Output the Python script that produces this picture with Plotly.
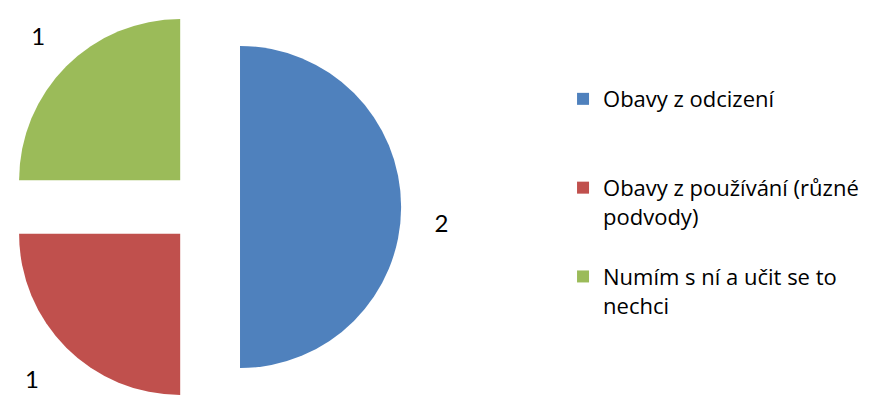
import plotly.graph_objects as go

labels = ["Obavy z odcizení", "Obavy z používání (různé podvody)", "Numím s ní a učit se to nechci"]
legend_labels = ["Obavy z odcizení<br> <br> ", "Obavy z používání (různé<br>podvody)<br> ", "Numím s ní a učit se to<br>nechci<br> "]
values = [2, 1, 1]
colors = ["#4F81BD", "#C0504D", "#9BBB59"]
pulls = [0.205, 0.235, 0.235]
nb = "\u00a0"
label_templates = [nb + "<br>" + nb * 3 + "%{value}", nb + "<br>%{value}" + nb * 2, "%{value}" + nb + "<br>" + nb]

fig = go.Figure(go.Pie(
    labels=legend_labels,
    values=values,
    sort=False,
    direction="clockwise",
    rotation=0,
    pull=pulls,
    marker=dict(colors=colors, line=dict(width=0)),
    texttemplate=label_templates,
    textposition="outside",
    textfont=dict(family="Lato", size=24, color="#000000"),
    domain=dict(x=[0, 0.4543], y=[0, 1]),
    hoverinfo="value",
))

fig.update_layout(
    width=876,
    height=398,
    margin=dict(l=0, r=0, t=0, b=0, autoexpand=False),
    paper_bgcolor="white",
    plot_bgcolor="white",
    font=dict(family="Open Sans", size=22, color="#000000"),
    showlegend=True,
    legend=dict(
        x=0.6336, xanchor="left",
        y=0.824, yanchor="top",
        valign="top",
        itemwidth=30,
        font=dict(family="Open Sans", size=22, color="#000000"),
        bgcolor="rgba(0,0,0,0)",
    ),
)

fig.write_html("out.html")
